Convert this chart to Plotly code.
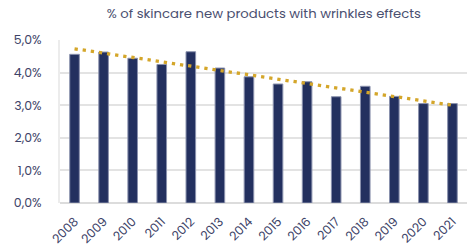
import numpy as np
import plotly.graph_objects as go

years = ["2008", "2009", "2010", "2011", "2012", "2013", "2014",
         "2015", "2016", "2017", "2018", "2019", "2020", "2021"]
share_pct = [4.56, 4.63, 4.44, 4.25, 4.64, 4.14, 3.87,
             3.65, 3.72, 3.26, 3.58, 3.27, 3.05, 3.05]
y_ticks = [0, 1, 2, 3, 4, 5]
y_tick_labels = ["0,0%", "1,0%", "2,0%", "3,0%", "4,0%", "5,0%"]
title_text = "% of skincare new products with wrinkles effects"

# linear trendline computed from the data
idx = np.arange(len(years))
slope, intercept = np.polyfit(idx, share_pct, 1)
trend = [intercept + slope * i for i in (idx[0], idx[-1])]

font_family = "Poppins, Inter, Lato, sans-serif"

fig = go.Figure()
fig.add_trace(go.Bar(
    x=years, y=share_pct, width=0.33,
    marker=dict(color="#23305f", line=dict(color="#8a91ad", width=1)),
    showlegend=False, hoverinfo="skip",
))
fig.add_trace(go.Scatter(
    x=[years[0], years[-1]], y=trend, mode="lines",
    line=dict(color="#d4a62a", width=3.3, dash="3.3px,4.9px"),
    showlegend=False, hoverinfo="skip",
))

fig.update_layout(
    width=467, height=249,
    margin=dict(l=60, r=0, t=40, b=46, autoexpand=False),
    paper_bgcolor="white", plot_bgcolor="white",
    font=dict(family=font_family, color="#3d4368"),
    title=dict(text=title_text, x=0.565, xanchor="center", y=0.945, yanchor="middle",
               font=dict(size=13.2, color="#4a4f70", family=font_family)),
)
fig.update_yaxes(
    range=[0, 5], tickmode="array", tickvals=y_ticks, ticktext=y_tick_labels,
    showgrid=True, gridcolor="#e3e3e3", gridwidth=2,
    zeroline=True, zerolinecolor="#dcdcdc", zerolinewidth=2,
    showline=True, linecolor="#ececec", linewidth=2,
    ticklabelstandoff=14, tickfont=dict(size=12.5, color="#3d4368"),
)
fig.update_xaxes(
    tickangle=-45, tickfont=dict(size=12.3, color="#3d4368"),
    showgrid=False, showline=False, ticks="", ticklabelstandoff=8,
)

fig.write_html("out.html", config={"displayModeBar": False},
               post_script="document.body.style.margin='0';")
